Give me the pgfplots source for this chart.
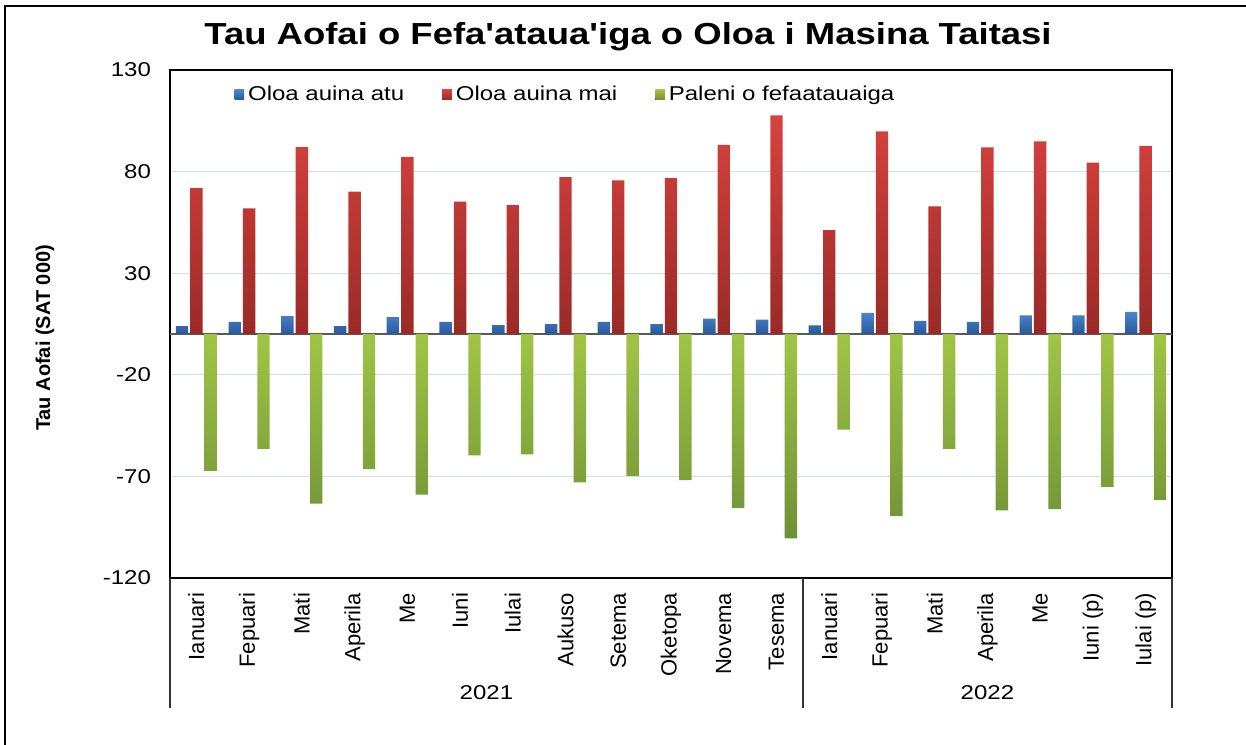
\documentclass[border=0pt]{standalone}
\usepackage{fontspec}
\setmainfont[FakeStretch=1.2]{Liberation Sans}
\newfontfamily\plainfont{Liberation Sans}
\newfontfamily\titlefont[FakeStretch=1.2]{Liberation Sans}
\usepackage{pgfplots}
\usepackage{pgfplotstable}
\pgfplotsset{compat=1.18}
\definecolor{blueT}{HTML}{4A86D0}
\definecolor{blueB}{HTML}{2A5898}
\definecolor{redT}{HTML}{D8423F}
\definecolor{redB}{HTML}{9A2A27}
\definecolor{greenT}{HTML}{A0C545}
\definecolor{greenB}{HTML}{6F9136}
\definecolor{gridc}{HTML}{D5DEEA}
\pgfplotstableread{
x exp imp bal
0 3.9 71.9 -67.3
1 6.1 61.9 -56.5
2 8.9 92.1 -83.4
3 3.9 70.1 -66.4
4 8.4 87.2 -79.0
5 6.1 65.2 -59.6
6 4.4 63.5 -59.1
7 4.9 77.3 -72.9
8 6.1 75.7 -69.8
9 4.9 76.8 -71.8
10 7.7 93.2 -85.6
11 7.2 107.7 -100.5
12 4.3 51.2 -47.0
13 10.5 99.8 -89.5
14 6.5 62.9 -56.5
15 6.1 91.9 -86.7
16 9.3 94.9 -86.1
17 9.3 84.4 -75.2
18 11.0 92.6 -81.6
}\datatable
\begin{document}
\begin{tikzpicture}
\useasboundingbox (0pt,0pt) rectangle (623pt,372pt);
\draw[line width=1pt] (2.5pt,-5pt) -- (2.5pt,369pt) -- (630pt,369pt);
\node[font=\titlefont\bfseries\fontsize{15.2}{18}\selectfont] at (314pt,353.5pt) {Tau Aofai o Fefa'ataua'iga o Oloa i Masina Taitasi};
\node[font=\plainfont\bfseries\fontsize{10}{12}\selectfont, rotate=90] at (22.5pt,203pt) {Tau Aofai (SAT 000)};
\begin{axis}[
  at={(85pt,83pt)}, anchor=south west,
  scale only axis, width=501pt, height=254pt,
  ybar=1pt, bar width=6.2pt,
  xmin=-0.5, xmax=18.5, ymin=-120, ymax=130,
  ytick={-120,-70,-20,30,80,130},
  xtick={0,...,18},
  xticklabels={Ianuari,Fepuari,Mati,Aperila,Me,Iuni,Iulai,Aukuso,Setema,Oketopa,Novema,Tesema,Ianuari,Fepuari,Mati,Aperila,Me,Iuni (p),Iulai (p)},
  xticklabel style={rotate=90, anchor=east, font=\plainfont\fontsize{11}{13}\selectfont, xshift=-4pt},
  yticklabel style={font=\fontsize{10}{12}\selectfont, xshift=-6pt},
  /pgf/number format/assume math mode=true,
  major tick length=0pt,
  ymajorgrids, grid style={color=gridc, line width=0.6pt},
  axis line style={black, line width=0.8pt},
  clip=false,
  legend style={at={(0.058,0.985)}, anchor=north west, draw=none, fill=none,
    font=\fontsize{10}{12}\selectfont, legend columns=3,
    /tikz/every even column/.append style={column sep=17pt}},
  legend image code/.code={\fill[#1] (0pt,-2.4pt) rectangle (4.8pt,2.4pt);},
]
\draw[line width=1.2pt, color=black!65] (axis cs:-0.5,0) -- (axis cs:18.5,0);
\addplot[draw=none, top color=blueT, bottom color=blueB] table[x=x,y=exp] {\datatable};
\addplot[draw=none, top color=redT, bottom color=redB] table[x=x,y=imp] {\datatable};
\addplot[draw=none, top color=greenT, bottom color=greenB] table[x=x,y=bal] {\datatable};
\legend{Oloa auina atu, Oloa auina mai, Paleni o fefaatauaiga}
\draw[line width=0.8pt, black!80] (axis cs:-0.5,-120) -- ++(0pt,-65pt);
\draw[line width=0.8pt, black!80] (axis cs:11.5,-120) -- ++(0pt,-65pt);
\draw[line width=0.8pt, black!80] (axis cs:18.5,-120) -- ++(0pt,-65pt);
\node[font=\fontsize{10}{12}\selectfont] at (axis cs:5.5,-120) [yshift=-57.5pt] {2021};
\node[font=\fontsize{10}{12}\selectfont] at (axis cs:15,-120) [yshift=-57.5pt] {2022};
\end{axis}
\end{tikzpicture}
\end{document}
